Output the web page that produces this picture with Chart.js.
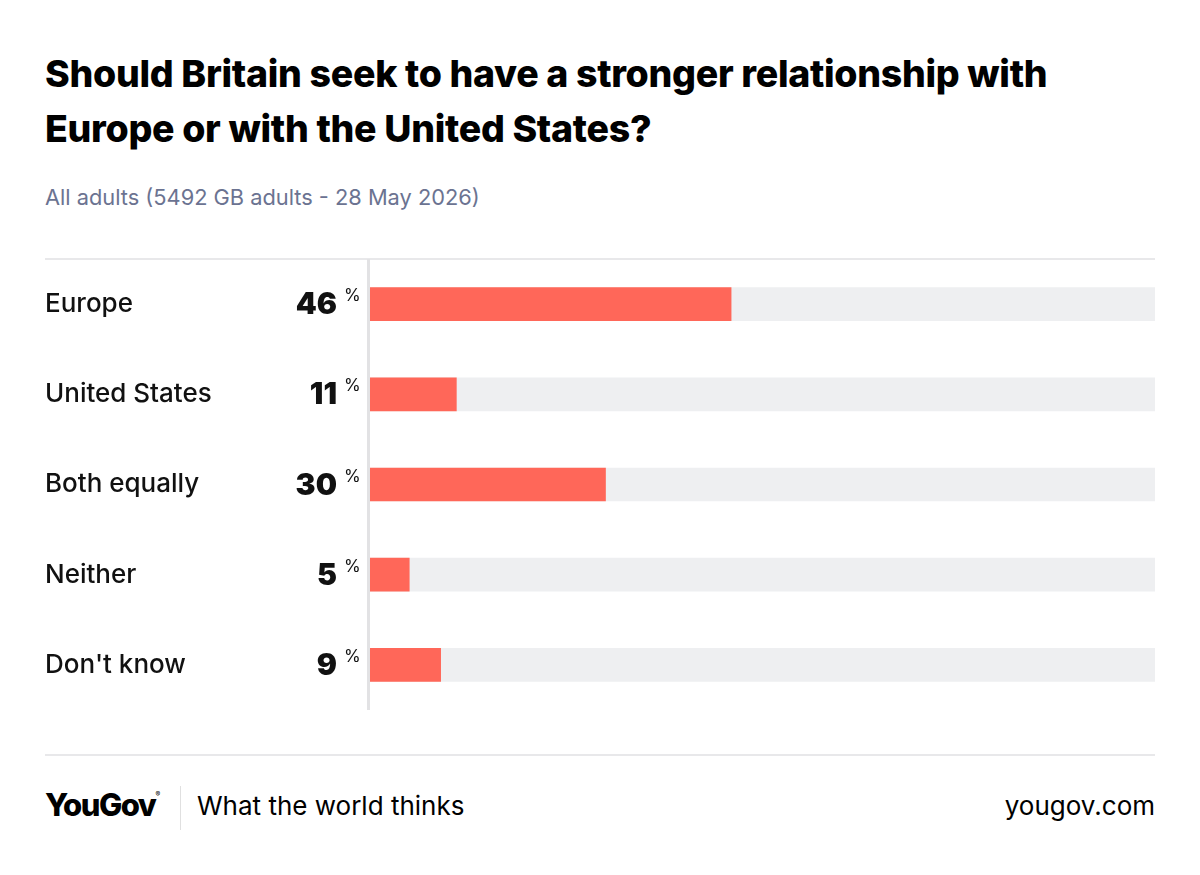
<!DOCTYPE html>
<html>
<head>
<meta charset="utf-8">
<script src="https://cdn.jsdelivr.net/npm/chart.js@4"></script>
<style>
  body { margin: 0; width: 1200px; height: 875px; background: #fff; font-family: Inter, "Noto Sans", sans-serif; position: relative; overflow: hidden; }
  .title { position: absolute; left: 45px; top: 46px; width: 1140px; font-size: 37.5px; font-weight: 800; line-height: 55px; color: #000; letter-spacing: -0.3px; }
  .sub { position: absolute; left: 45px; top: 184px; font-size: 21.8px; font-weight: 400; color: #6b7391; }
  .rule { position: absolute; left: 45px; width: 1110px; height: 2px; background: #e8e8ea; }
  #wrap { position: absolute; left: 0; top: 259px; width: 1200px; height: 451px; }
  .logo { position: absolute; left: 45px; top: 786px; font-size: 31px; font-weight: 800; letter-spacing: -1.5px; color: #000; }
  .logo sup { font-size: 7px; font-weight: 400; letter-spacing: 0; vertical-align: 19px; }
  .sep { position: absolute; left: 180px; top: 786px; width: 1px; height: 44px; background: #e0e0e0; }
  .tag { position: absolute; left: 197px; top: 790px; font-size: 26px; color: #000; }
  .url { position: absolute; right: 45px; top: 790px; font-size: 26px; color: #000; }
</style>
</head>
<body>
<div class="title">Should Britain seek to have a stronger relationship with<br>Europe or with the United States?</div>
<div class="sub">All adults (5492 GB adults - 28 May 2026)</div>
<div class="rule" style="top:258px"></div>
<div id="wrap"><canvas id="chart"></canvas></div>
<div class="rule" style="top:754px"></div>
<div class="logo">YouGov<sup>®</sup></div>
<div class="sep"></div>
<div class="tag">What the world thinks</div>
<div class="url">yougov.com</div>
<script>
const categories = ['Europe', 'United States', 'Both equally', 'Neither', "Don't know"];
const shares = [46, 11, 30, 5, 9];
const track = [100, 100, 100, 100, 100];

// labels, values and the vertical axis line
const sideLabels = {
  id: 'sideLabels',
  afterDraw(chart) {
    const ctx = chart.ctx;
    const y = chart.scales.y;
    const area = chart.chartArea;
    ctx.save();
    ctx.fillStyle = '#e2e2e4';
    ctx.fillRect(area.left - 3, 0, 3, area.bottom);
    categories.forEach((c, i) => {
      const py = y.getPixelForValue(i);
      ctx.textBaseline = 'middle';
      ctx.fillStyle = '#111';
      ctx.textAlign = 'left';
      ctx.font = '500 26px Inter, "Noto Sans", sans-serif';
      ctx.fillText(c, 45, py);
      ctx.textAlign = 'right';
      ctx.font = '900 30px Inter, "Noto Sans", sans-serif';
      ctx.fillText(String(shares[i]), 337, py + 1);
      ctx.textAlign = 'left';
      ctx.font = '400 17px Inter, "Noto Sans", sans-serif';
      ctx.fillText('%', 344, py - 8);
    });
    ctx.restore();
  }
};

new Chart(document.getElementById('chart'), {
  type: 'bar',
  data: {
    labels: categories,
    datasets: [
      { data: shares, backgroundColor: '#ff6759', barThickness: 33, order: 0 },
      { data: track, backgroundColor: '#eeeff1', barThickness: 33, order: 1 }
    ]
  },
  options: {
    indexAxis: 'y',
    responsive: true,
    maintainAspectRatio: false,
    animation: false,
    datasets: { bar: { grouped: false } },
    layout: { padding: { left: 370, right: 45, top: 0, bottom: 0 } },
    scales: {
      x: { display: false, min: 0, max: 100 },
      y: { display: false }
    },
    plugins: { legend: { display: false }, tooltip: { enabled: false } }
  },
  plugins: [sideLabels]
});
</script>
</body>
</html>
